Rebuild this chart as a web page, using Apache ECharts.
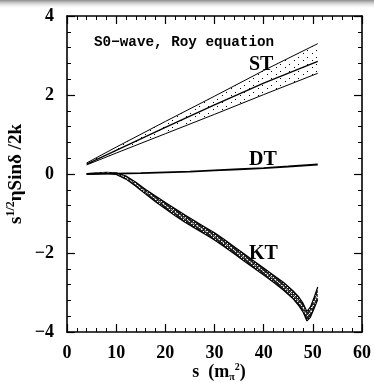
<!DOCTYPE html>
<html><head><meta charset="utf-8">
<script src="https://cdn.jsdelivr.net/npm/echarts@6/dist/echarts.min.js"></script>
<style>html,body{margin:0;padding:0;background:#fff}#c{width:374px;height:383px}</style>
</head><body><div id="c"></div>
<script>
// ---- data ----
var stS     = [4, 10, 20, 30, 40, 51];
var stUpper = [0.28, 0.68, 1.33, 1.97, 2.62, 3.30];
var stMid   = [0.25, 0.60, 1.18, 1.75, 2.30, 2.85];
var stLower = [0.23, 0.53, 1.02, 1.51, 2.01, 2.55];

var dtS = [4, 10, 15, 20, 25, 30, 35, 40, 45, 51];
var dtV = [0, 0.01, 0.02, 0.04, 0.06, 0.09, 0.12, 0.15, 0.19, 0.24];

var ktS     = [4, 6, 8, 10, 12, 14, 16, 18, 20, 22, 24, 26, 28, 30, 32, 34, 36, 38, 40, 42, 44, 46, 47, 48, 48.8, 49.5, 50.3, 51];
var ktUpper = [0.01, 0.03, 0.04, 0.03, -0.05, -0.21, -0.39, -0.56, -0.72, -0.88, -1.04, -1.19, -1.34, -1.49, -1.66, -1.84, -2.02, -2.20, -2.38, -2.56, -2.74, -2.96, -3.09, -3.27, -3.48, -3.37, -3.11, -2.86];
var ktMid   = [0.00, 0.02, 0.03, 0.01, -0.09, -0.26, -0.45, -0.63, -0.80, -0.97, -1.13, -1.28, -1.43, -1.58, -1.75, -1.93, -2.11, -2.29, -2.47, -2.65, -2.84, -3.06, -3.20, -3.38, -3.60, -3.50, -3.25, -3.02];
var ktLower = [-0.01, 0.01, 0.02, -0.01, -0.13, -0.31, -0.51, -0.70, -0.88, -1.06, -1.22, -1.37, -1.52, -1.67, -1.84, -2.02, -2.20, -2.38, -2.56, -2.74, -2.94, -3.16, -3.31, -3.49, -3.72, -3.63, -3.39, -3.18];

var xTicks = [0, 10, 20, 30, 40, 50, 60];
var yTicks = [-4, -2, 0, 2, 4];

// ---- helpers ----
function pairs(xs, ys) { return xs.map(function (x, i) { return [x, ys[i]]; }); }

var dotCanvas = document.createElement('canvas');
dotCanvas.width = 9; dotCanvas.height = 7;
(function () {
  var g = dotCanvas.getContext('2d');
  g.fillStyle = '#000';
  g.fillRect(1, 1, 1, 1);
  g.fillRect(6, 4, 1, 1);
})();
var ktCanvas = document.createElement('canvas');
ktCanvas.width = 4; ktCanvas.height = 4;
(function () {
  var g = ktCanvas.getContext('2d');
  g.fillStyle = '#222';
  g.fillRect(0, 0, 4, 4);
  g.fillStyle = '#fff';
  g.fillRect(1, 1, 1, 1);
  g.fillRect(3, 3, 1, 1);
})();

var serif = '"Liberation Serif", "DejaVu Serif", serif';
var lab = { fontFamily: serif, fontWeight: 'bold', fontSize: 18, color: '#000' };

function axisCommon(extra) {
  var o = {
    type: 'value',
    axisLine: { show: true, onZero: false, lineStyle: { color: '#000', width: 1.6 } },
    axisTick: { show: true, inside: true, length: 8, lineStyle: { color: '#000', width: 1.2 } },
    minorTick: { show: true, splitNumber: 5, length: 4, lineStyle: { color: '#000', width: 1 } },
    splitLine: { show: false },
    minorSplitLine: { show: false }
  };
  for (var k in extra) o[k] = extra[k];
  return o;
}
function fmtNum(v) { return v < 0 ? '\u2212' + (-v) : String(v); }

function bandSeries(xs, up, lo, fillImg) {
  return {
    type: 'custom', silent: true, z: 2,
    data: [[xs[0], up[0]]],
    renderItem: function (params, api) {
      var pts = [];
      for (var i = 0; i < xs.length; i++) pts.push(api.coord([xs[i], up[i]]));
      for (var j = xs.length - 1; j >= 0; j--) pts.push(api.coord([xs[j], lo[j]]));
      return { type: 'polygon', shape: { points: pts },
        style: { fill: { image: fillImg, repeat: 'repeat' }, stroke: null } };
    }
  };
}

var chart = echarts.init(document.getElementById('c'), null, { renderer: 'canvas' });
var line = function (name, data, w, dashed, color) {
  return {
    name: name, type: 'line', data: data, symbol: 'none', smooth: false, silent: true,
    lineStyle: { color: color || '#000', width: w, type: dashed ? [3, 2] : 'solid' }, z: 5
  };
};

chart.setOption({
  animation: false,
  backgroundColor: '#fff',
  grid: { left: 67, right: 2, top: 16, bottom: 51, containLabel: false },
  xAxis: [
    axisCommon({ position: 'bottom', min: 0, max: 60, interval: 10,
      axisLabel: Object.assign({ margin: 12, showMaxLabel: true, formatter: fmtNum }, lab) }),
    axisCommon({ position: 'top', min: 0, max: 60, interval: 10, axisLabel: { show: false } })
  ],
  yAxis: [
    axisCommon({ position: 'left', min: -4, max: 4, interval: 2,
      axisLabel: Object.assign({ margin: 13, formatter: fmtNum }, lab) }),
    axisCommon({ position: 'right', min: -4, max: 4, interval: 2, axisLabel: { show: false } })
  ],
  series: [
    bandSeries(stS, stUpper, stLower, dotCanvas),
    line('stUpper', pairs(stS, stUpper), 1),
    line('stMid', pairs(stS, stMid), 1.3),
    line('stLower', pairs(stS, stLower), 1),
    bandSeries(ktS, ktUpper, ktLower, ktCanvas),
    line('ktUpper', pairs(ktS, ktUpper), 1.2),
    line('ktMid', pairs(ktS, ktMid), 0.8, true, '#fff'),
    line('ktLower', pairs(ktS, ktLower), 1.2),
    line('dt', pairs(dtS, dtV), 1.8)
  ],
  graphic: [
    { type: 'rect', left: 0, top: 0, shape: { width: 374, height: 9 }, silent: true, z: 100,
      style: { fill: new echarts.graphic.LinearGradient(0, 0, 0, 1, [
        { offset: 0, color: '#8c8c8c' }, { offset: 1, color: 'rgba(255,255,255,0)' }]) } },
    { type: 'text', left: 94, top: 35, silent: true,
      style: { text: 'S0\u2212wave, Roy equation', fontFamily: '"Liberation Mono", monospace', fontWeight: 'bold', fontSize: 14.3, fill: '#000' } },
    { type: 'text', left: 249, top: 55, silent: true, style: { text: 'ST', fontFamily: serif, fontWeight: 'bold', fontSize: 20, fill: '#000' } },
    { type: 'text', left: 249, top: 150, silent: true, style: { text: 'DT', fontFamily: serif, fontWeight: 'bold', fontSize: 20, fill: '#000' } },
    { type: 'text', left: 249, top: 244, silent: true, style: { text: 'KT', fontFamily: serif, fontWeight: 'bold', fontSize: 20, fill: '#000' } },
    { type: 'text', x: 219, y: 372, silent: true,
      style: { text: '{n|s  (m}{sub|\u03c0}{sup|2}{n|)}', align: 'center', verticalAlign: 'middle',
        rich: {
          n: { fontFamily: serif, fontWeight: 'bold', fontSize: 18, lineHeight: 20, fill: '#000' },
          sub: { fontFamily: serif, fontWeight: 'bold', fontSize: 10, lineHeight: 8, verticalAlign: 'bottom', fill: '#000' },
          sup: { fontFamily: serif, fontWeight: 'bold', fontSize: 10, lineHeight: 10, verticalAlign: 'top', fill: '#000' }
        } } },
    { type: 'text', x: 16, y: 174, rotation: Math.PI / 2, silent: true,
      style: { text: '{n|s}{sup|1/2}{n|\u03b7Sin\u03b4 /2k}', align: 'center', verticalAlign: 'middle',
        rich: {
          n: { fontFamily: serif, fontWeight: 'bold', fontSize: 19, lineHeight: 22, fill: '#000' },
          sup: { fontFamily: serif, fontWeight: 'bold', fontSize: 12, lineHeight: 12, verticalAlign: 'top', fill: '#000' }
        } } }
  ]
});
</script></body></html>
